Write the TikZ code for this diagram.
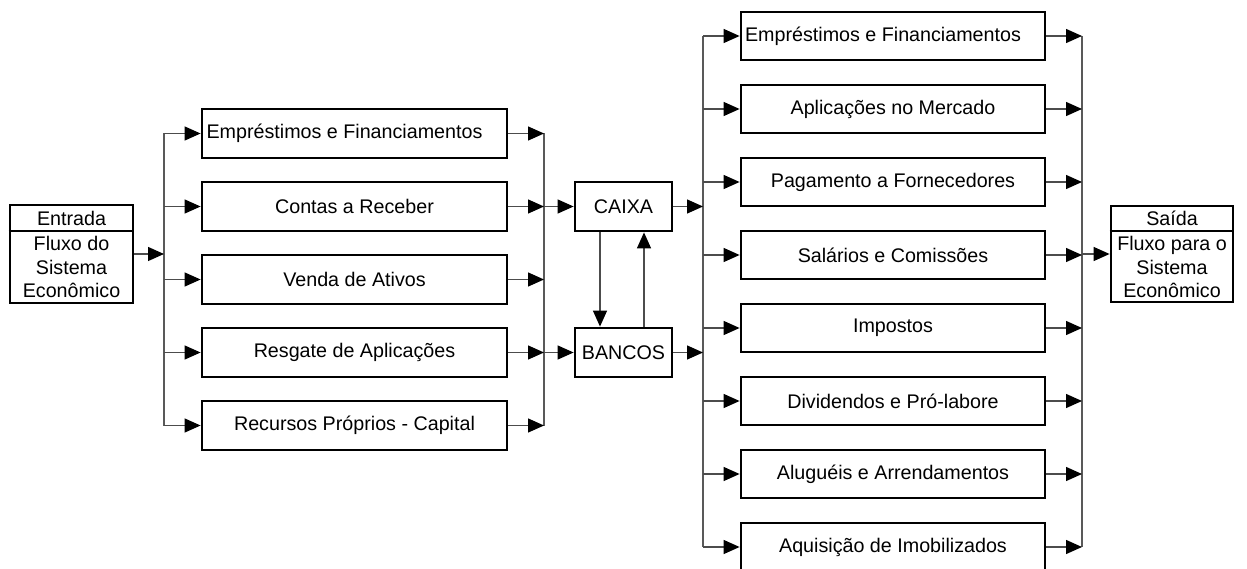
\documentclass[tikz,border=0pt]{standalone}
\usepackage{fontspec}
\setmainfont{Liberation Sans}
\usetikzlibrary{arrows.meta}
\begin{document}
\begin{tikzpicture}[x=1pt,y=-1pt,
  txt/.style={inner sep=0pt,font=\fontsize{19.7}{23.5}\selectfont},
  boxbase/.style={draw=black,line width=2.8pt,inner sep=2pt,font=\fontsize{19.7}{23.5}\selectfont},
  lbox/.style={boxbase,minimum width=305pt,minimum height=49pt},
  rbox/.style={boxbase,minimum width=304pt,minimum height=48pt},
  cbox/.style={boxbase,minimum width=97pt,minimum height=49pt},
  bus/.style={line width=1.3pt,draw=black!65},
  conn/.style={line width=1.3pt,draw=black!70,-{Triangle[length=16pt,width=14pt,color=black]}}]
\useasboundingbox (0,0) rectangle (1247,569);

% Entrada
\node[boxbase,minimum width=123pt,minimum height=98pt] (ent) at (71.5,254) {};
\coordinate (entdiv) at (0,231);
\draw[line width=2.8pt] (ent.west |- entdiv) -- (ent.east |- entdiv);
\node[txt] (entT) at (71.5,218) {Entrada};
\node[txt,align=center] (entB) at (71.5,267) {Fluxo do\\Sistema\\Econômico};

% Saida
\node[boxbase,minimum width=122pt,minimum height=96pt] (sai) at (1172,254) {};
\draw[line width=2.8pt] (sai.west |- entdiv) -- (sai.east |- entdiv);
\node[txt] (saiT) at (1172,218) {Saída};
\node[txt,align=center] (saiB) at (1172,267) {Fluxo para o\\Sistema\\Econômico};

% left boxes
\node[lbox,inner xsep=0pt] (l1) at (354.5,133.5) {Empréstimos e Financiamentos\hspace*{20pt}\mbox{}};
\node[lbox] (l2) at (354.5,206.5) {Contas a Receber};
\node[lbox] (l3) at (354.5,279.5) {Venda de Ativos};
\node[lbox] (l4) at (354.5,352.5) {Resgate de Aplicações};
\node[lbox] (l5) at (354.5,425.5) {Recursos Próprios - Capital};

% middle
\node[cbox] (caixa) at (623.5,206.5) {CAIXA};
\node[cbox] (bancos) at (623.5,352.5) {BANCOS};

% right boxes
\node[rbox,inner xsep=0pt] (r1) at (893,36) {Empréstimos e Financiamentos\hspace*{20pt}\mbox{}};
\node[rbox] (r2) at (893,109) {Aplicações no Mercado};
\node[rbox] (r3) at (893,182) {Pagamento a Fornecedores};
\node[rbox] (r4) at (893,255) {Salários e Comissões};
\node[rbox] (r5) at (893,328) {Impostos};
\node[rbox] (r6) at (893,401) {Dividendos e Pró-labore};
\node[rbox] (r7) at (893,474) {Aluguéis e Arrendamentos};
\node[rbox] (r8) at (893,547) {Aquisição de Imobilizados};

% buses
\coordinate (b1t) at (164,133.5); \coordinate (b1b) at (164,425.5);
\coordinate (b2t) at (544,133.5); \coordinate (b2b) at (544,425.5);
\coordinate (b3t) at (703,36);    \coordinate (b3b) at (703,547);
\coordinate (b4t) at (1082,36);   \coordinate (b4b) at (1082,547);
\draw[bus] (b1t) -- (b1b);
\draw[bus] (b2t) -- (b2b);
\draw[bus] (b3t) -- (b3b);
\draw[bus] (b4t) -- (b4b);

% connectors
\draw[conn] (ent.east) -- (ent.east -| b1t);
\foreach \i in {1,...,5}{
  \draw[conn] (l\i.west -| b1t) -- (l\i.west);
  \draw[conn] (l\i.east) -- (l\i.east -| b2t);
}
\draw[conn] (caixa.west -| b2t) -- (caixa.west);
\draw[conn] (bancos.west -| b2t) -- (bancos.west);
\coordinate (dx) at (600,0); \coordinate (ux) at (644,0);
\draw[conn] (caixa.south -| dx) -- (bancos.north -| dx);
\draw[conn] (bancos.north -| ux) -- (caixa.south -| ux);
\draw[conn] (caixa.east) -- (caixa.east -| b3t);
\draw[conn] (bancos.east) -- (bancos.east -| b3t);
\foreach \i in {1,...,8}{
  \draw[conn] (r\i.west -| b3t) -- (r\i.west);
  \draw[conn] (r\i.east) -- (r\i.east -| b4t);
}
\draw[conn] (sai.west -| b4t) -- (sai.west);
\end{tikzpicture}
\end{document}
